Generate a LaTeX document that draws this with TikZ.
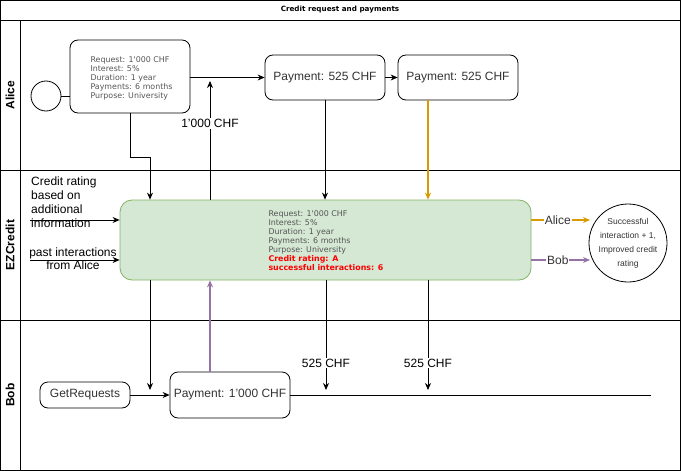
\documentclass[tikz,border=0pt]{standalone}
\usepackage{fontspec}
\setmainfont{Liberation Sans}
\newfontfamily\verd{DejaVu Sans}
\usetikzlibrary{arrows.meta,positioning}
\definecolor{orng}{HTML}{D79B00}
\definecolor{purp}{HTML}{9673A6}
\definecolor{gfill}{HTML}{D5E8D4}
\definecolor{gline}{HTML}{82B366}
\definecolor{txtgray}{HTML}{555555}
\definecolor{dark}{HTML}{333333}
\begin{document}
\begin{tikzpicture}[x=1pt,y=-1pt,
  arr/.style={draw=black,line width=0.8pt,-{Stealth[length=7pt,width=6pt]}},
  plain/.style={draw=black,line width=0.8pt},
  rbox/.style={draw=black,line width=0.8pt,rounded corners=8pt,align=center,font=\fontsize{12}{14}\selectfont,text=dark,inner sep=0pt},
  info/.style={font=\verd\fontsize{7.9}{9}\selectfont,text=txtgray,align=left},
  lbl/.style={fill=white,font=\fontsize{12}{14}\selectfont,inner sep=1pt},
  lane/.style={font=\bfseries\fontsize{12}{14}\selectfont,rotate=90}
]
\useasboundingbox (0,0) rectangle (681,471);
% pool frame
\draw[line width=0.8pt] (0.5,0.5) rectangle (680,470);
\draw[line width=0.8pt] (0.5,20) -- (680,20);
\draw[line width=0.8pt] (20,20) -- (20,470);
\draw[line width=0.8pt] (0.5,170) -- (680,170);
\draw[line width=0.8pt] (0.5,320) -- (680,320);
\node[font=\verd\bfseries\fontsize{7.2}{9}\selectfont] (title) at (340,10) {Credit request and payments};
\node[lane] (laneA) at (10,95) {Alice};
\node[lane] (laneE) at (10,245) {EZCredit};
\node[lane] (laneB) at (10,395) {Bob};

% Alice lane
\node[draw,circle,line width=0.8pt,minimum size=30pt,inner sep=0pt] (start) at (46,96) {};
\node[rbox,minimum width=120pt,minimum height=73pt] (req) at (130,76.5) {};
\node[info,anchor=north west] (reqtxt) at (87,53) {Request: 1'000 CHF\\Interest: 5\%\\Duration: 1 year\\Payments: 6 months\\Purpose: University};
\node[rbox,minimum width=120pt,minimum height=45pt] (pay1) at (325,77.5) {Payment: 525 CHF};
\node[rbox,minimum width=120pt,minimum height=45pt] (pay2) at (458,77.5) {Payment: 525 CHF};

% EZCredit lane
\node[draw=gline,fill=gfill,line width=0.8pt,rounded corners=12pt,minimum width=411pt,minimum height=80pt,inner sep=0pt] (green) at (325.5,240) {};
\node[info,anchor=north west] (greentxt) at (265,207.5) {Request: 1'000 CHF\\Interest: 5\%\\Duration: 1 year\\Payments: 6 months\\Purpose: University\\
{\color{red}\bfseries Credit rating: A}\\{\color{red}\bfseries successful interactions: 6}};
\node[draw,circle,line width=0.8pt,minimum size=78pt,inner sep=0pt,align=center,font=\fontsize{8.5}{14}\selectfont,text=dark] (result) at (628,243) {Successful\\interaction + 1,\\Improved credit\\rating};
\node[font=\fontsize{12}{14}\selectfont,align=left,anchor=north west,inner sep=0pt] (crtxt) at (31,177) {Credit rating\\based on\\additional\\information};
\node[font=\fontsize{12}{13.5}\selectfont,align=center,inner sep=0pt] (pasttxt) at (73,258.5) {past interactions\\from Alice};
\coordinate (in1) at (30,220);
\coordinate (in2) at (30,260);
\coordinate (outA) at (590,220);
\coordinate (outB) at (590,260);

% Bob lane
\node[rbox,minimum width=90pt,minimum height=26pt] (getreq) at (85,395) {GetRequests};
\node[rbox,minimum width=120pt,minimum height=46pt] (pay3) at (230,395) {Payment: 1'000 CHF};
\coordinate (bobend) at (651,395);

% helper coordinates
\coordinate (bend1) at (150,157);
\coordinate (loantip) at (210,81);
\coordinate (b150) at (150,390);
\coordinate (b326) at (326,390);
\coordinate (b428) at (428,390);

% connectors
\draw[plain] (start.east) -- (start.east -| req.west);
\draw[arr] (req.east |- pay1.west) -- (pay1.west);
\draw[arr] (pay1.east) -- (pay2.west);
\draw[arr] (req.south) |- (bend1) -- (bend1 |- green.north);
\draw[arr] (loantip |- green.north) -- node[lbl,pos=0.64] {1'000 CHF} (loantip);
\draw[arr] (pay1.south) -- (pay1.south |- green.north);
\draw[arr,color=orng,line width=1.2pt] ([xshift=-30pt]pay2.south) -- ([xshift=-30pt]pay2.south |- green.north);
\draw[arr] (in1) -- (in1 -| green.west);
\draw[arr] (in2) -- (in2 -| green.west);
\draw[arr,color=orng,line width=1.2pt] (outA -| green.east) -- node[lbl,pos=0.45,text=dark] {Alice} (outA);
\draw[arr,color=purp,line width=1.2pt] (outB -| green.east) -- node[lbl,pos=0.45,text=dark] {Bob} (outB);
\draw[arr] (b150 |- green.south) -- (b150);
\draw[arr] (b326 |- green.south) -- node[lbl,pos=0.755] {525 CHF} (b326);
\draw[arr] (b428 |- green.south) -- node[lbl,pos=0.755] {525 CHF} (b428);
\draw[arr,color=purp,line width=1.2pt] ([xshift=-20pt]pay3.north) -- ([xshift=-20pt]pay3.north |- green.south);
\draw[arr] (getreq.east) -- (pay3.west);
\draw[plain] (pay3.east) -- (bobend);
\end{tikzpicture}
\end{document}
